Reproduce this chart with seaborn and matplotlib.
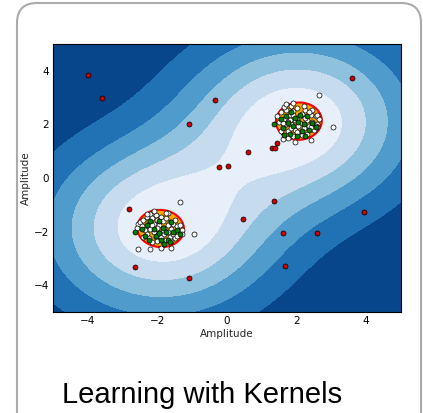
import numpy as np
import pandas as pd
import matplotlib
matplotlib.use("Agg")
import matplotlib.pyplot as plt
from matplotlib.patches import FancyBboxPatch
import seaborn as sns

# training points (white)
train_x = [-2.55, -2.5, -2.45, -2.4, -2.3, -2.25, -2.2, -2.15, -2.1, -2.05, -2.0, -1.95, -1.9, -1.85,
           -1.8, -1.75, -1.7, -1.65, -1.6, -1.55, -1.5, -1.45, -1.4, -1.35, -1.3, -1.3, -2.35, -2.3,
           -2.25, -2.2, -2.1, -2.05, -2.0, -1.95, -1.9, -1.85, -1.8, -1.75, -1.7, -1.65, -1.6, -1.55,
           -1.5, -1.45, -2.15, -2.4, -2.0, -1.85, -2.15, -1.7,
           -1.35, -0.95, -2.55, -2.2, -1.9, -1.6, -1.75, -2.1, -2.3, -2.6,
           1.45, 1.5, 1.55, 1.6, 1.65, 1.7, 1.75, 1.8, 1.85, 1.85, 1.9, 1.95, 2.0, 2.0, 2.05, 2.1,
           2.15, 2.2, 2.25, 2.3, 2.35, 2.4, 2.45, 2.5, 2.55, 2.6, 2.65, 1.7, 1.75, 1.9, 2.05, 1.95,
           2.15, 2.3, 1.6, 1.8, 2.2, 2.45, 1.55, 2.1, 1.9, 2.25, 2.4, 1.65, 1.75, 2.0, 2.35, 2.55,
           1.85, 2.6,
           2.65, 3.05, 2.4, 1.95, 1.6, 2.6, 1.9, 1.7]
train_y = [-1.7, -1.65, -1.8, -1.55, -1.45, -1.6, -1.35, -1.5, -1.7, -1.4, -1.55, -1.75, -1.45, -1.6,
           -1.85, -1.5, -1.3, -1.65, -1.9, -1.7, -1.55, -1.8, -2.0, -1.75, -1.95, -2.1, -1.95, -2.1,
           -2.25, -1.9, -2.0, -2.2, -2.35, -2.05, -2.2, -2.4, -2.1, -2.3, -2.0, -2.2, -2.35, -2.1,
           -2.25, -2.15, -2.4, -2.2, -1.85, -1.95, -1.75, -1.75,
           -0.9, -2.1, -2.65, -2.65, -2.6, -2.6, -1.3, -1.25, -1.35, -1.85,
           2.3, 2.1, 2.45, 1.9, 2.2, 2.55, 1.75, 2.35, 2.7, 2.0, 2.5, 1.8, 2.25, 2.6, 1.65, 2.05,
           2.4, 1.85, 2.55, 2.15, 1.95, 2.35, 2.1, 1.8, 2.3, 2.0, 2.2, 2.0, 1.5, 1.55, 1.95, 2.15,
           1.6, 1.65, 2.05, 2.15, 2.7, 2.55, 1.75, 2.3, 2.35, 2.25, 1.9, 2.65, 2.1, 1.7, 2.45, 1.95,
           1.85, 2.35,
           3.1, 1.9, 1.4, 1.35, 1.45, 1.9, 2.8, 2.75]

# new regular observations (green)
test_x = [-2.65, -2.45, -2.35, -2.25, -2.2, -2.1, -2.05, -1.95, -1.9, -1.85, -1.8, -1.75, -1.7, -1.6,
          -1.55, -1.45, -1.35, -1.95, -2.3, -1.65,
          1.35, 1.55, 1.6, 1.65, 1.7, 1.75, 1.8, 1.85, 1.9, 1.95, 2.0, 2.05, 2.1, 2.15, 2.2, 2.25,
          2.3, 2.35, 2.45, 2.55]
test_y = [-2.0, -1.9, -2.15, -2.3, -1.6, -1.9, -2.15, -1.6, -2.3, -1.85, -2.45, -2.0, -2.3, -1.65,
          -2.0, -1.95, -2.1, -2.05, -1.75, -2.4,
          2.0, 2.2, 1.85, 1.6, 2.3, 2.05, 1.65, 2.45, 1.95, 2.25, 1.55, 2.1, 2.35, 1.75, 2.0, 1.55,
          2.3, 1.8, 2.05, 1.9]

# abnormal observations (red)
out_x = [-3.98, -3.6, -0.35, -1.1, 3.6, -2.82, -2.65, -1.1, 0.45, 0.6, -0.22, 0.03, 1.35, 1.6,
         2.6, 1.68, 3.95, 1.3, 1.38, 1.45]
out_y = [3.85, 2.98, 2.9, 2.0, 3.72, -1.15, -3.32, -3.75, -1.52, 0.95, 0.4, 0.45, -0.87, -2.05,
         -2.07, -3.3, -1.28, 1.1, 1.1, 1.3]

x_ticks = [-4, -2, 0, 2, 4]
y_ticks = [-4, -2, 0, 2, 4]

gamma = 0.1
nu = 0.12

train = np.column_stack([train_x, train_y])
blobs = [train[train[:, 0] < 0], train[train[:, 0] > 0]]
centres = np.array([b.mean(axis=0) for b in blobs])
inv_covs = [np.linalg.inv(np.cov(b.T)) for b in blobs]


def score(pts):
    # broad rbf field, one bump per blob
    d2 = ((pts[:, None, :] - centres[None, :, :]) ** 2).sum(axis=2)
    return np.exp(-gamma * d2).mean(axis=1)


def mahal(pts):
    d = [np.einsum("ij,jk,ik->i", pts - c, ic, pts - c) for c, ic in zip(centres, inv_covs)]
    return np.sqrt(np.min(d, axis=0))


rho = np.quantile(score(train), nu)
thr = np.quantile(mahal(train), 1 - nu)

xx, yy = np.meshgrid(np.linspace(-5, 5, 300), np.linspace(-5, 5, 300))
grid = np.column_stack([xx.ravel(), yy.ravel()])
Z = (score(grid) - rho).reshape(xx.shape)
inside = (thr - mahal(grid)).reshape(xx.shape)

sns.set_theme(style="ticks")
plt.rcParams.update({
    "font.family": ["DejaVu Sans"],
    "xtick.direction": "in", "ytick.direction": "in",
    "xtick.top": True, "ytick.right": True,
    "xtick.major.size": 4, "ytick.major.size": 4,
    "xtick.major.width": 0.6, "ytick.major.width": 0.6,
    "axes.linewidth": 0.8, "axes.edgecolor": "black",
})

fig = plt.figure(figsize=(4.23, 4.13), dpi=100)

card = FancyBboxPatch((0.17, -0.3), 4.04, 4.40,
                      boxstyle="round,pad=0,rounding_size=0.2",
                      transform=fig.dpi_scale_trans, facecolor="white",
                      edgecolor="#ababab", linewidth=1.5, zorder=-1)
fig.patches.append(card)

ax = fig.add_axes([0.1253, 0.2446, 0.8227, 0.649])

ax.contourf(xx, yy, Z, levels=np.linspace(Z.min(), max(Z.max(), 0), 7), cmap="Blues_r")
ax.contourf(xx, yy, inside, levels=[0, inside.max()], colors="orange")
ax.contour(xx, yy, inside, levels=[0], linewidths=1.5, colors="red")

df_train = pd.DataFrame({"x": train_x, "y": train_y})
df_test = pd.DataFrame({"x": test_x, "y": test_y})
df_out = pd.DataFrame({"x": out_x, "y": out_y})

sns.scatterplot(data=df_train, x="x", y="y", ax=ax, color="white", s=13,
                edgecolor="black", linewidth=0.5, zorder=3)
sns.scatterplot(data=df_test, x="x", y="y", ax=ax, color="green", s=13,
                edgecolor="black", linewidth=0.5, zorder=4)
sns.scatterplot(data=df_out, x="x", y="y", ax=ax, color="#d00000", s=13,
                edgecolor="black", linewidth=0.5, zorder=4)

ax.set_xlim(-5, 5)
ax.set_ylim(-5, 5)
ax.set_xticks(x_ticks)
ax.set_yticks(y_ticks)
ax.tick_params(labelsize=7.5, colors="black", pad=3)
ax.set_xlabel("Amplitude", fontsize=7.5, labelpad=2)
ax.set_ylabel("Amplitude", fontsize=7.5, labelpad=2)

fig.text(0.147, 0.025, "Learning with Kernels", fontsize=21,
         family=["Liberation Sans", "DejaVu Sans"], color="black")

fig.savefig("out.png", dpi=100)
